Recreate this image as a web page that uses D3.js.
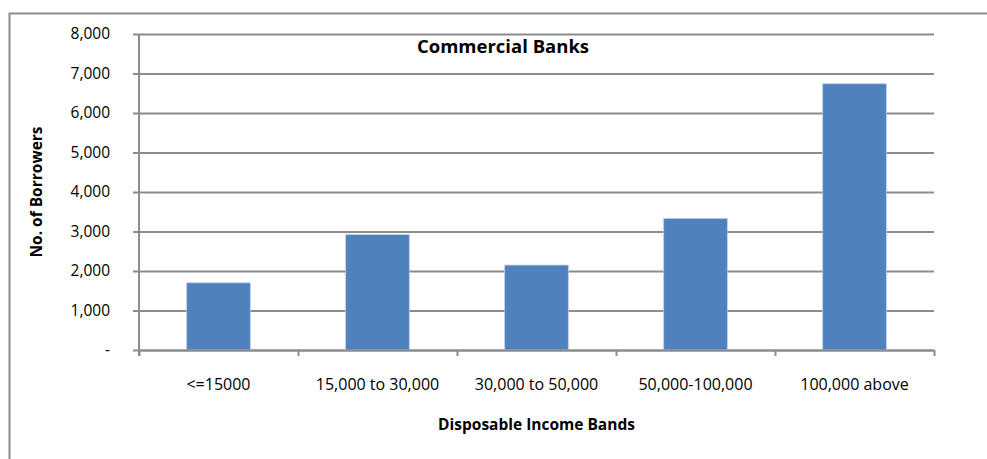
<!DOCTYPE html>
<html>
<head>
<meta charset="utf-8">
<script src="https://cdn.jsdelivr.net/npm/d3@7"></script>
<style>
  html, body { margin: 0; padding: 0; background: #fff; }
  svg { display: block; }
  text { font-family: "Open Sans", "DejaVu Sans", sans-serif; fill: #000; }
</style>
</head>
<body>
<svg id="chart" width="987" height="459"></svg>
<script>
// Borrowers by disposable income band
const categories = ["<=15000", "15,000 to 30,000", "30,000 to 50,000", "50,000-100,000", "100,000 above"];
const borrowers = [1700, 2920, 2150, 3330, 6740];
const yTicks = [0, 1000, 2000, 3000, 4000, 5000, 6000, 7000, 8000];

const chartTitle = "Commercial Banks";
const xTitle = "Disposable Income Bands";
const yTitle = "No. of Borrowers";

const svg = d3.select("#chart");
const plot = { left: 139, right: 934, top: 34, bottom: 350 };

// Outer chart frame (left and top edges)
svg.append("path")
  .attr("d", `M9.5,${459} L9.5,13.5 L987,13.5`)
  .attr("fill", "none")
  .attr("stroke", "#8c8c8c")
  .attr("stroke-width", 2);

const x = d3.scaleBand()
  .domain(categories)
  .range([plot.left, plot.right])
  .paddingInner(0.6)
  .paddingOuter(0.3);

const xTickScale = d3.scaleLinear().domain([0, categories.length]).range([plot.left, plot.right]);

const y = d3.scaleLinear().domain([0, 8000]).range([plot.bottom, plot.top]);

const fmt = v => v === 0 ? "-" : d3.format(",")(v);

// Horizontal gridlines with left ticks
const yAxis = d3.axisLeft(y)
  .tickValues(yTicks)
  .tickFormat(fmt)
  .tickSize(-(plot.right - plot.left))
  .tickSizeOuter(0)
  .tickPadding(29);

const gy = svg.append("g")
  .attr("transform", `translate(${plot.left},0)`)
  .call(yAxis);
gy.select(".domain").remove();
gy.selectAll(".tick line")
  .attr("x1", -6)
  .attr("stroke", "#8c8c8c")
  .attr("stroke-width", 2);
gy.selectAll(".tick text")
  .attr("font-size", 15.5);

// Bars
svg.append("g")
  .selectAll("rect")
  .data(borrowers)
  .join("rect")
  .attr("x", (d, i) => x(categories[i]))
  .attr("y", d => y(d))
  .attr("width", x.bandwidth())
  .attr("height", d => y(0) - y(d))
  .attr("fill", "#4f81bd")
  .attr("stroke", "#b8cce4")
  .attr("stroke-width", 0.8);

// Vertical axis line
svg.append("line")
  .attr("x1", plot.left).attr("x2", plot.left)
  .attr("y1", plot.top).attr("y2", plot.bottom + 6)
  .attr("stroke", "#8c8c8c")
  .attr("stroke-width", 2);

// Horizontal axis line with category separators
const xAxis = d3.axisBottom(xTickScale)
  .tickValues(d3.range(categories.length + 1))
  .tickFormat("")
  .tickSize(6)
  .tickSizeOuter(0);
const gx = svg.append("g")
  .attr("transform", `translate(0,${plot.bottom})`)
  .call(xAxis);
gx.selectAll("path, line").attr("stroke", "#8c8c8c").attr("stroke-width", 2);

// Category labels
svg.append("g")
  .selectAll("text")
  .data(categories)
  .join("text")
  .attr("x", d => x(d) + x.bandwidth() / 2)
  .attr("y", 390)
  .attr("text-anchor", "middle")
  .attr("font-size", 16)
  .text(d => d);

// Titles
svg.append("text")
  .attr("x", 503)
  .attr("y", 53)
  .attr("text-anchor", "middle")
  .attr("font-size", 18.5)
  .attr("font-weight", "bold")
  .text(chartTitle);

svg.append("text")
  .attr("x", (plot.left + plot.right) / 2)
  .attr("y", 430)
  .attr("text-anchor", "middle")
  .attr("font-size", 15.5)
  .attr("font-weight", "bold")
  .text(xTitle);

svg.append("text")
  .attr("transform", `translate(42,${(plot.top + plot.bottom) / 2}) rotate(-90)`)
  .attr("text-anchor", "middle")
  .attr("font-size", 15.5)
  .attr("font-weight", "bold")
  .text(yTitle);
</script>
</body>
</html>
